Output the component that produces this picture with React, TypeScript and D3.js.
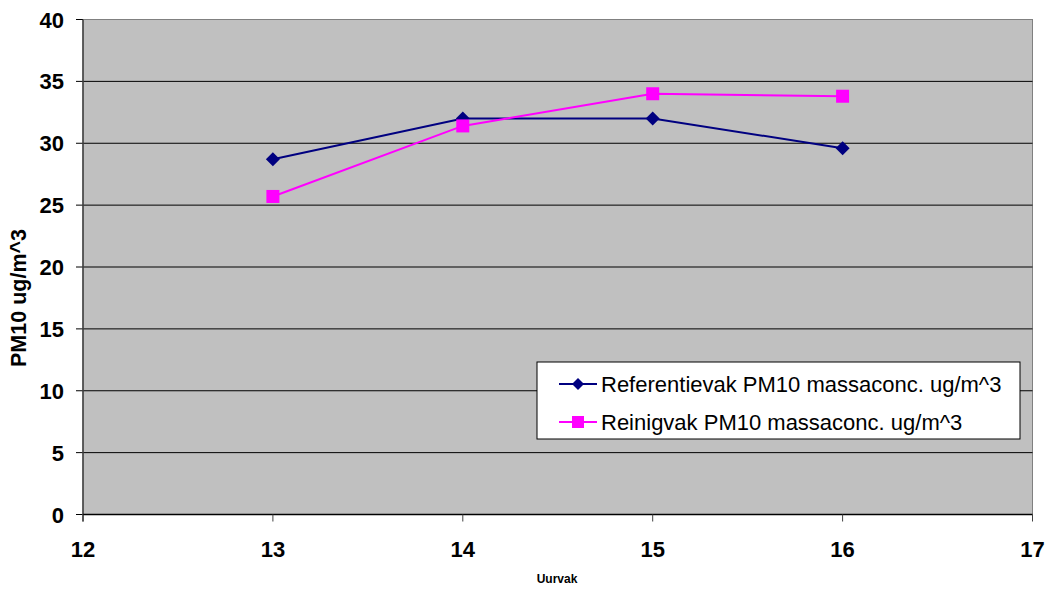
import * as d3 from "d3";

const hours = [13, 14, 15, 16];
const referentie = [28.7, 32.0, 32.0, 29.6];
const reinig = [25.7, 31.4, 34.0, 33.8];
const yTicks = [0, 5, 10, 15, 20, 25, 30, 35, 40];
const xTicks = [12, 13, 14, 15, 16, 17];
const seriesNames = ["Referentievak PM10 massaconc. ug/m^3", "Reinigvak PM10 massaconc. ug/m^3"];

const WIDTH = 1050;
const HEIGHT = 590;
const PLOT = { left: 83, top: 19.5, right: 1032.5, bottom: 514.5 };
const FONT = "Arial, 'Liberation Sans', sans-serif";
const NAVY = "#000080";
const MAGENTA = "#ff00ff";

export default function App() {
  const x = d3.scaleLinear().domain([12, 17]).range([PLOT.left, PLOT.right]);
  const y = d3.scaleLinear().domain([0, 40]).range([PLOT.bottom, PLOT.top]);
  const line = d3
    .line<[number, number]>()
    .x((d) => x(d[0]))
    .y((d) => y(d[1]));

  const refPoints = hours.map((h, i) => [h, referentie[i]] as [number, number]);
  const reinPoints = hours.map((h, i) => [h, reinig[i]] as [number, number]);

  const diamond = (cx: number, cy: number, r = 7) => `M${cx},${cy - r}L${cx + r},${cy}L${cx},${cy + r}L${cx - r},${cy}Z`;

  return (
    <svg width={WIDTH} height={HEIGHT} style={{ position: "absolute", left: 0, top: 0 }} fontFamily={FONT}>
      <rect x={0} y={0} width={WIDTH} height={HEIGHT} fill="#ffffff" />
      <rect x={PLOT.left} y={PLOT.top} width={PLOT.right - PLOT.left} height={PLOT.bottom - PLOT.top} fill="#c0c0c0" stroke="#808080" strokeWidth={1} />
      {yTicks.map((t) => (
        <g key={t}>
          {t > 0 && t < 40 && <line x1={PLOT.left} x2={PLOT.right} y1={y(t)} y2={y(t)} stroke="#000000" strokeWidth={1} />}
          <line x1={PLOT.left - 7} x2={PLOT.left} y1={y(t)} y2={y(t)} stroke="#000000" strokeWidth={1} />
          <text x={PLOT.left - 19} y={y(t) + 8} textAnchor="end" fontSize={22} fontWeight="bold" fill="#000">
            {t}
          </text>
        </g>
      ))}
      <line x1={PLOT.left} x2={PLOT.left} y1={PLOT.top} y2={PLOT.bottom + 7} stroke="#404040" strokeWidth={1.5} />
      <line x1={PLOT.left} x2={PLOT.right} y1={PLOT.bottom} y2={PLOT.bottom} stroke="#000000" strokeWidth={1.5} />
      {xTicks.map((t) => (
        <g key={t}>
          <line x1={x(t)} x2={x(t)} y1={PLOT.bottom} y2={PLOT.bottom + 7} stroke="#404040" strokeWidth={1} />
          <text x={x(t)} y={PLOT.bottom + 42} textAnchor="middle" fontSize={22} fontWeight="bold" fill="#000">
            {t}
          </text>
        </g>
      ))}
      <text x={557} y={583} textAnchor="middle" fontSize={12} fontWeight="bold" fill="#000">
        Uurvak
      </text>
      <text transform={`translate(26 298) rotate(-90)`} textAnchor="middle" fontSize={21.5} fontWeight="bold" fill="#000">
        PM10 ug/m^3
      </text>

      <path d={line(refPoints) ?? undefined} fill="none" stroke={NAVY} strokeWidth={2} />
      {refPoints.map((p, i) => (
        <path key={i} d={diamond(x(p[0]), y(p[1]))} fill={NAVY} />
      ))}
      <path d={line(reinPoints) ?? undefined} fill="none" stroke={MAGENTA} strokeWidth={2} />
      {reinPoints.map((p, i) => (
        <rect key={i} x={x(p[0]) - 6.5} y={y(p[1]) - 6.5} width={13} height={13} fill={MAGENTA} />
      ))}

      <g>
        <rect x={537} y={362} width={483} height={77} fill="#ffffff" stroke="#000" strokeWidth={1} />
        <line x1={559} x2={597} y1={384} y2={384} stroke={NAVY} strokeWidth={2} />
        <path d={diamond(578, 384, 6)} fill={NAVY} />
        <text x={601} y={392} fontSize={22} fill="#000">
          {seriesNames[0]}
        </text>
        <line x1={559} x2={597} y1={422} y2={422} stroke={MAGENTA} strokeWidth={2} />
        <rect x={572} y={416} width={12} height={12} fill={MAGENTA} />
        <text x={601} y={430} fontSize={22} fill="#000">
          {seriesNames[1]}
        </text>
      </g>
    </svg>
  );
}
